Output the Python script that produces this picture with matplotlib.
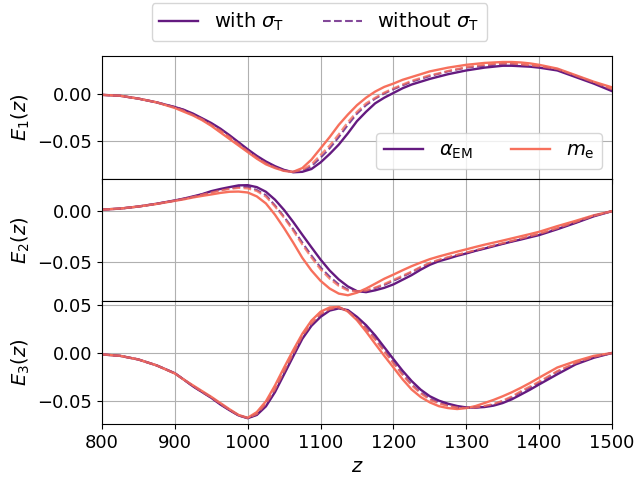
import numpy as np
import matplotlib
matplotlib.use("Agg")
import matplotlib.pyplot as plt
from matplotlib.lines import Line2D
from matplotlib.ticker import MultipleLocator

# redshift grid: coarse at the ends, finer where the curves bend
z = np.concatenate([np.arange(800, 900, 25), np.arange(900, 1400.1, 12.5), np.arange(1425, 1501, 25)])

# E_1(z)
e1_alpha = [-0.001, -0.002, -0.005, -0.009, -0.014,
            -0.017, -0.021, -0.026, -0.031, -0.037, -0.044, -0.0515, -0.059,
            -0.066, -0.072, -0.077, -0.081, -0.0835, -0.083, -0.080, -0.073,
            -0.064, -0.054, -0.042, -0.029, -0.019, -0.010, -0.004, 0.001,
            0.006, 0.010, 0.013, 0.016, 0.0185, 0.021, 0.023, 0.025,
            0.0265, 0.028, 0.029, 0.030, 0.030, 0.0295, 0.029, 0.028,
            0.025, 0.018, 0.011, 0.003]
e1_alpha_noT = [-0.001, -0.002, -0.005, -0.009, -0.014,
                -0.017, -0.022, -0.0265, -0.032, -0.038, -0.045, -0.0525, -0.060,
                -0.067, -0.073, -0.078, -0.0815, -0.083, -0.082, -0.077, -0.068,
                -0.058, -0.046, -0.033, -0.021, -0.012, -0.005, 0.0005, 0.005,
                0.009, 0.013, 0.016, 0.019, 0.0215, 0.024, 0.026, 0.028,
                0.029, 0.030, 0.031, 0.032, 0.032, 0.031, 0.030, 0.029,
                0.026, 0.019, 0.012, 0.004]
e1_me = [-0.001, -0.002, -0.005, -0.009, -0.015,
         -0.019, -0.023, -0.028, -0.034, -0.041, -0.048, -0.055, -0.062,
         -0.069, -0.075, -0.079, -0.082, -0.083, -0.079, -0.070, -0.058,
         -0.046, -0.033, -0.022, -0.012, -0.004, 0.0025, 0.0075, 0.011,
         0.015, 0.018, 0.021, 0.024, 0.026, 0.028, 0.0295, 0.031,
         0.032, 0.033, 0.0335, 0.034, 0.034, 0.0335, 0.0325, 0.031,
         0.027, 0.020, 0.013, 0.007]
e1_me_noT = [-0.001, -0.002, -0.005, -0.009, -0.0145,
             -0.018, -0.0225, -0.027, -0.033, -0.039, -0.046, -0.0535, -0.061,
             -0.068, -0.074, -0.0785, -0.082, -0.083, -0.081, -0.075, -0.065,
             -0.055, -0.043, -0.030, -0.019, -0.010, -0.004, 0.0015, 0.006,
             0.010, 0.014, 0.017, 0.020, 0.022, 0.0245, 0.0265, 0.0285,
             0.030, 0.031, 0.032, 0.0325, 0.0325, 0.0315, 0.0305, 0.0295,
             0.0265, 0.0195, 0.0125, 0.005]

# E_2(z)
e2_alpha = [0.001, 0.002, 0.004, 0.0067, 0.0099,
            0.0117, 0.0138, 0.016, 0.0189, 0.021, 0.0228, 0.0245, 0.0247,
            0.0228, 0.0183, 0.0106, 0.0006, -0.011, -0.0234, -0.0355, -0.0474,
            -0.058, -0.0667, -0.0735, -0.078, -0.079, -0.0772, -0.0748, -0.0715,
            -0.067, -0.0625, -0.0572, -0.0525, -0.049, -0.0465, -0.0438, -0.0415,
            -0.039, -0.0368, -0.0345, -0.0322, -0.030, -0.028, -0.0258, -0.0237,
            -0.018, -0.0119, -0.0055, -0.0005]
e2_alpha_noT = [0.001, 0.002, 0.004, 0.0067, 0.0098,
                0.0116, 0.0135, 0.0158, 0.018, 0.020, 0.0215, 0.0228, 0.023,
                0.020, 0.015, 0.005, -0.006, -0.018, -0.031, -0.0435, -0.055,
                -0.064, -0.0715, -0.0765, -0.078, -0.078, -0.075, -0.072, -0.068,
                -0.064, -0.0596, -0.055, -0.051, -0.048, -0.0455, -0.043, -0.041,
                -0.0388, -0.0365, -0.034, -0.032, -0.0298, -0.0275, -0.025, -0.023,
                -0.0175, -0.0115, -0.005, -0.0005]
e2_me = [0.001, 0.002, 0.004, 0.0065, 0.0095,
         0.011, 0.0128, 0.0143, 0.0157, 0.0172, 0.0183, 0.0185, 0.0176,
         0.0138, 0.007, -0.004, -0.017, -0.031, -0.0458, -0.058, -0.068,
         -0.0755, -0.0804, -0.082, -0.0795, -0.0755, -0.0708, -0.066, -0.062,
         -0.0578, -0.0538, -0.0503, -0.047, -0.0444, -0.042, -0.0397, -0.0375,
         -0.0352, -0.033, -0.031, -0.029, -0.0269, -0.0248, -0.0227, -0.0205,
         -0.015, -0.0099, -0.0045, -0.0005]
e2_me_noT = [0.001, 0.002, 0.004, 0.0066, 0.0097,
             0.0114, 0.0133, 0.0155, 0.0175, 0.0195, 0.021, 0.022, 0.0215,
             0.019, 0.0135, 0.004, -0.007, -0.0195, -0.033, -0.0455, -0.057,
             -0.066, -0.073, -0.0775, -0.078, -0.0775, -0.0745, -0.071, -0.067,
             -0.063, -0.059, -0.0545, -0.0505, -0.0475, -0.045, -0.0427, -0.0405,
             -0.0383, -0.036, -0.0338, -0.0315, -0.0293, -0.027, -0.0248, -0.0225,
             -0.017, -0.011, -0.005, -0.0005]

# E_3(z)
e3_alpha = [-0.0015, -0.003, -0.0068, -0.013, -0.0212,
            -0.028, -0.035, -0.041, -0.047, -0.054, -0.060, -0.0655, -0.0684,
            -0.065, -0.056, -0.041, -0.0223, -0.0035, 0.0149, 0.0285, 0.0379,
            0.0445, 0.0468, 0.045, 0.0379, 0.0292, 0.0184, 0.006, -0.0064,
            -0.0185, -0.0294, -0.0385, -0.0454, -0.050, -0.0532, -0.0556, -0.0571,
            -0.0573, -0.0567, -0.0552, -0.0525, -0.0486, -0.0436, -0.0385, -0.033,
            -0.0223, -0.012, -0.005, 0.0]
e3_alpha_noT = [-0.0015, -0.003, -0.0068, -0.013, -0.0213,
                -0.028, -0.035, -0.041, -0.0468, -0.0537, -0.0598, -0.0655, -0.0683,
                -0.0645, -0.054, -0.039, -0.020, -0.0015, 0.017, 0.030, 0.040,
                0.0455, 0.0475, 0.0445, 0.036, 0.026, 0.015, 0.0025, -0.0099,
                -0.022, -0.033, -0.0415, -0.048, -0.0522, -0.055, -0.057, -0.0575,
                -0.0572, -0.056, -0.054, -0.0505, -0.0465, -0.041, -0.0362, -0.031,
                -0.0195, -0.011, -0.0045, 0.0]
e3_me = [-0.0015, -0.003, -0.0068, -0.013, -0.0215,
         -0.028, -0.034, -0.040, -0.046, -0.0525, -0.059, -0.065, -0.068,
         -0.062, -0.0507, -0.034, -0.0152, 0.003, 0.0202, 0.034, 0.0433,
         0.0478, 0.0484, 0.0435, 0.0344, 0.0225, 0.0096, -0.003, -0.0152,
         -0.0275, -0.0383, -0.0462, -0.0518, -0.0558, -0.0578, -0.0588, -0.0578,
         -0.0557, -0.0525, -0.0492, -0.0454, -0.0412, -0.0365, -0.0314, -0.0259,
         -0.0152, -0.0086, -0.003, 0.0]
e3_me_noT = [-0.0015, -0.003, -0.0068, -0.013, -0.0214,
             -0.028, -0.0345, -0.0408, -0.0465, -0.0533, -0.0595, -0.0653, -0.0682,
             -0.064, -0.053, -0.038, -0.019, -0.0005, 0.018, 0.031, 0.041,
             0.046, 0.0478, 0.044, 0.0355, 0.025, 0.014, 0.0015, -0.011,
             -0.023, -0.034, -0.0425, -0.049, -0.053, -0.0555, -0.0572, -0.0577,
             -0.0571, -0.0555, -0.0535, -0.050, -0.0455, -0.040, -0.035, -0.030,
             -0.019, -0.0105, -0.004, 0.0]

panels = [
    (r"$E_1(z)$", e1_alpha, e1_alpha_noT, e1_me, e1_me_noT, (-0.0903, 0.0404)),
    (r"$E_2(z)$", e2_alpha, e2_alpha_noT, e2_me, e2_me_noT, (-0.0879, 0.0310)),
    (r"$E_3(z)$", e3_alpha, e3_alpha_noT, e3_me, e3_me_noT, (-0.0745, 0.0542)),
]

c_alpha = plt.cm.magma(0.3)
c_me = plt.cm.magma(0.7)

plt.rcParams["font.size"] = 13
plt.rcParams["axes.labelsize"] = 14
plt.rcParams["legend.fontsize"] = 14

fig, axes = plt.subplots(3, 1, sharex=True, figsize=(6.39, 4.79), dpi=100)
fig.subplots_adjust(left=0.1596, right=0.9577, bottom=0.1148, top=0.8831, hspace=0)

for ax, (lab, ya, ya_n, ym, ym_n, lims) in zip(axes, panels):
    ax.plot(z, ya, color=c_alpha, lw=1.7, label=r"$\alpha_{\rm EM}$")
    ax.plot(z, ym, color=c_me, lw=1.7, label=r"$m_{\rm e}$")
    ax.plot(z, ya_n, color=c_alpha, lw=1.5, ls="--", alpha=0.8)
    ax.plot(z, ym_n, color=c_me, lw=1.5, ls="--", alpha=0.8)
    ax.set_ylabel(lab)
    ax.set_ylim(*lims)
    ax.yaxis.set_major_locator(MultipleLocator(0.05))
    ax.grid(True)

axes[0].set_xlim(800, 1500)
axes[0].legend(loc="lower right", ncol=2)
axes[-1].set_xlabel(r"$z$")
fig.align_ylabels(axes)

handles = [Line2D([], [], color=c_alpha, lw=1.7),
           Line2D([], [], color=c_alpha, lw=1.5, ls="--", alpha=0.8)]
fig.legend(handles, [r"with $\sigma_{\rm T}$", r"without $\sigma_{\rm T}$"],
           loc="upper center", bbox_to_anchor=(0.5, 1.0), ncol=2, borderaxespad=0.15)

fig.savefig("out.png", dpi=100)
